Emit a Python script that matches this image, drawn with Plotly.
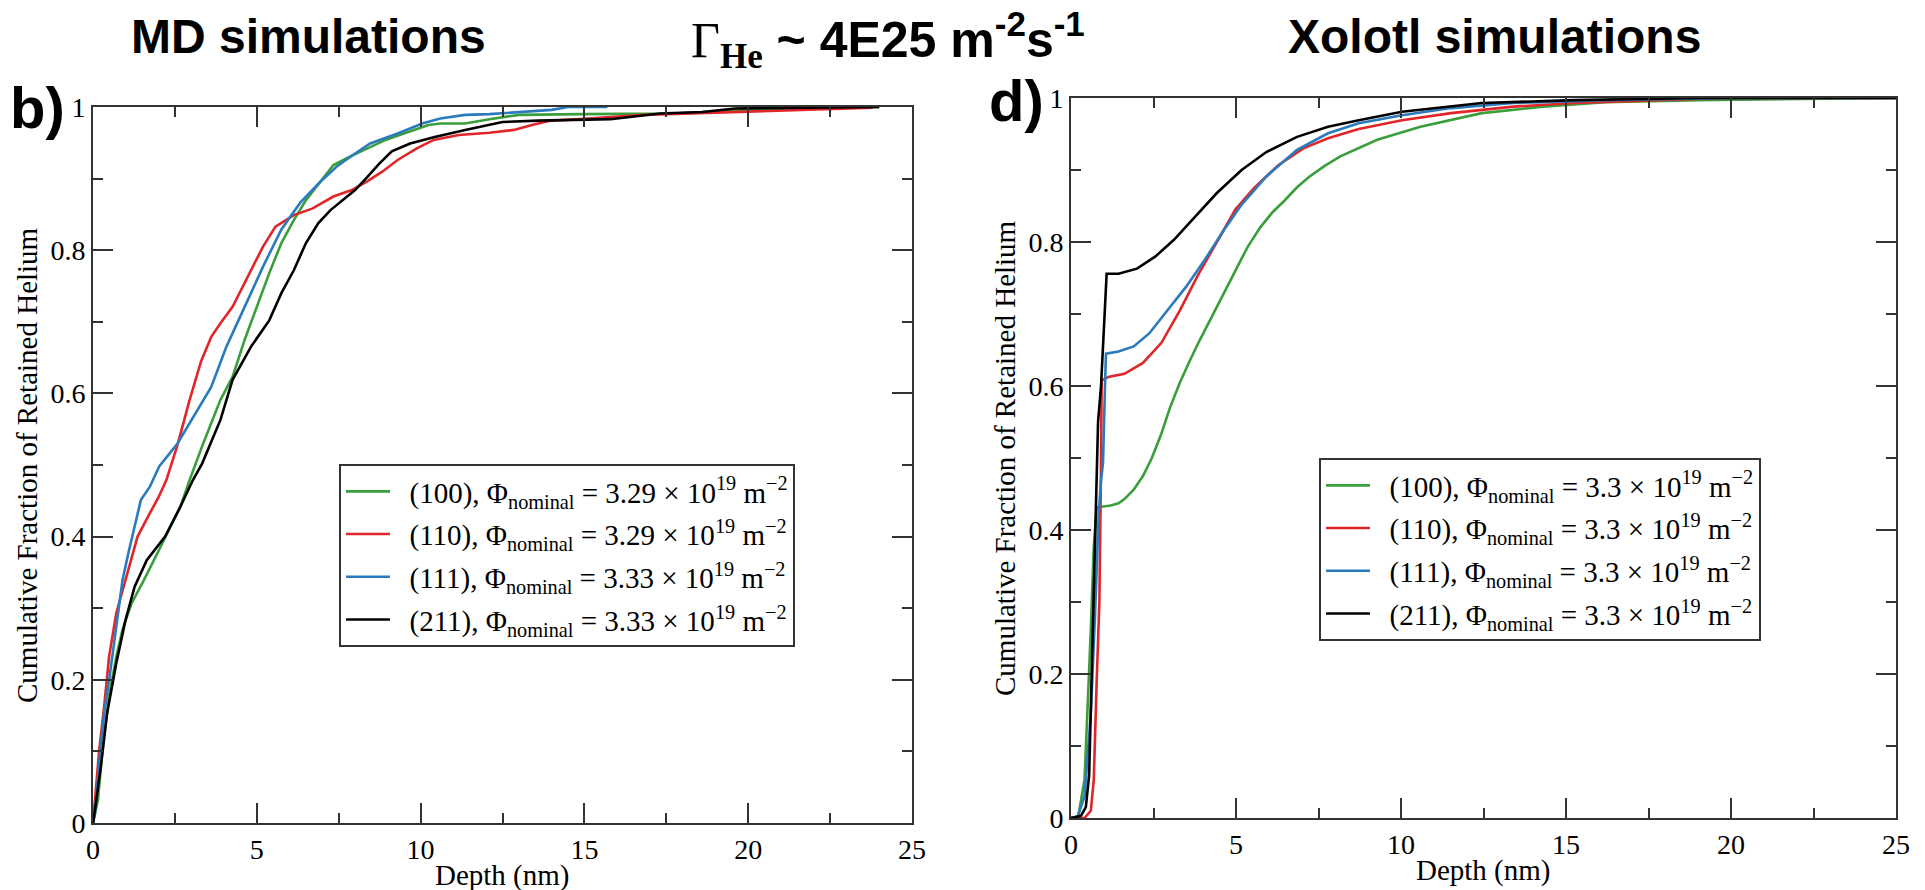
import plotly.graph_objects as go

W, H = 1925, 890

# ---- MD simulations: cumulative fraction vs depth (nm) ----
md_100_x = [0, 0.15, 0.3, 0.49, 0.71, 0.9, 1.18, 1.55, 2.11, 2.67, 2.95, 3.33, 3.89, 4.26, 4.63, 5.0, 5.38, 5.75,
            6.13, 6.5, 6.97, 7.34, 7.81, 8.37, 8.93, 9.49, 10.24, 10.6, 11.36, 12.1, 13.0, 14.9, 17.7, 19.6, 22.2, 24.0]
md_100_y = [0, 0.032, 0.107, 0.177, 0.232, 0.27, 0.307, 0.339, 0.39, 0.442, 0.479, 0.526, 0.591, 0.623, 0.675, 0.721,
            0.768, 0.81, 0.842, 0.87, 0.898, 0.919, 0.93, 0.942, 0.954, 0.963, 0.975, 0.977, 0.977, 0.983, 0.989, 0.990,
            0.991, 0.995, 0.998, 1.0]

md_110_x = [0, 0.06, 0.19, 0.34, 0.49, 0.71, 0.99, 1.36, 1.74, 2.0, 2.24, 2.58, 2.95, 3.3, 3.61, 3.89, 4.26, 4.73,
            5.19, 5.57, 6.13, 6.69, 7.34, 7.9, 8.37, 8.84, 9.3, 9.87, 10.4, 11.17, 12.1, 12.85, 13.4, 13.98, 14.9,
            16.8, 19.6, 21.4, 23.8]
md_110_y = [0, 0.032, 0.102, 0.162, 0.232, 0.293, 0.339, 0.40, 0.433, 0.455, 0.479, 0.528, 0.591, 0.645, 0.679, 0.698,
            0.721, 0.763, 0.805, 0.833, 0.849, 0.858, 0.875, 0.884, 0.896, 0.910, 0.926, 0.942, 0.954, 0.961, 0.964,
            0.968, 0.975, 0.981, 0.983, 0.989, 0.993, 0.996, 0.999]

md_111_x = [0, 0.06, 0.19, 0.34, 0.52, 0.71, 0.9, 1.08, 1.36, 1.46, 1.74, 2.02, 2.58, 3.14, 3.61, 4.07, 4.63, 5.19,
            5.75, 6.32, 6.88, 7.44, 8.0, 8.46, 9.3, 10.05, 10.6, 11.36, 12.1, 13.0, 14.0, 14.5, 15.7]
md_111_y = [0, 0.013, 0.083, 0.153, 0.209, 0.274, 0.339, 0.377, 0.433, 0.451, 0.47, 0.498, 0.53, 0.572, 0.609, 0.665,
            0.721, 0.777, 0.829, 0.866, 0.893, 0.917, 0.935, 0.949, 0.963, 0.977, 0.984, 0.989, 0.99, 0.993, 0.996,
            1.0, 1.0]

md_211_x = [0, 0.06, 0.24, 0.43, 0.71, 0.99, 1.27, 1.64, 2.2, 2.67, 3.05, 3.33, 3.89, 4.26, 4.82, 5.38, 5.75, 6.13,
            6.5, 6.88, 7.25, 7.62, 8.0, 8.37, 8.74, 9.12, 9.68, 10.43, 11.36, 12.5, 13.6, 15.8, 17.3, 18.6, 19.6,
            21.8, 24.0]
md_211_y = [0, 0.018, 0.079, 0.153, 0.223, 0.283, 0.33, 0.367, 0.40, 0.442, 0.479, 0.502, 0.563, 0.619, 0.665, 0.702,
            0.74, 0.772, 0.81, 0.838, 0.856, 0.87, 0.884, 0.902, 0.921, 0.938, 0.949, 0.958, 0.968, 0.979, 0.981,
            0.983, 0.991, 0.993, 0.998, 0.999, 1.0]

# ---- Xolotl simulations ----
xo_100_x = [0, 0.22, 0.41, 0.5, 0.6, 0.69, 0.78, 0.88, 1.2, 1.44, 1.62, 1.9, 2.18, 2.45, 2.74, 3.0, 3.3, 3.6, 3.86,
            4.42, 4.98, 5.35, 5.73, 6.1, 6.48, 6.85, 7.23, 7.7, 8.16, 9.28, 10.59, 12.45, 14.3, 16.2, 19.0, 25]
xo_100_y = [0, 0.002, 0.053, 0.145, 0.261, 0.377, 0.432, 0.432, 0.434, 0.437, 0.443, 0.456, 0.475, 0.5, 0.534, 0.57,
            0.605, 0.635, 0.66, 0.71, 0.761, 0.793, 0.82, 0.841, 0.858, 0.876, 0.891, 0.906, 0.919, 0.942, 0.96,
            0.979, 0.988, 0.994, 0.997, 1.0]

xo_110_x = [0, 0.41, 0.6, 0.69, 0.78, 0.86, 0.9, 0.93, 1.16, 1.62, 2.18, 2.74, 3.3, 3.86, 4.42, 4.98, 5.55, 6.29,
            7.04, 7.79, 8.72, 10.03, 11.52, 13.4, 15.25, 17.1, 19.9, 25]
xo_110_y = [0, 0, 0.01, 0.053, 0.192, 0.3, 0.45, 0.608, 0.613, 0.617, 0.632, 0.66, 0.705, 0.755, 0.80, 0.845,
            0.875, 0.907, 0.93, 0.944, 0.957, 0.969, 0.979, 0.988, 0.993, 0.996, 1.0, 1.0]

xo_111_x = [0, 0.2, 0.41, 0.6, 0.73, 0.84, 0.91, 0.97, 1.03, 1.06, 1.44, 1.9, 2.37, 2.93, 3.49, 4.05, 4.61, 5.17,
            5.92, 6.85, 7.79, 8.72, 10.03, 11.52, 13.4, 16.2, 19.9, 25]
xo_111_y = [0, 0.002, 0.03, 0.145, 0.284, 0.423, 0.469, 0.493, 0.6, 0.645, 0.648, 0.655, 0.673, 0.706, 0.738,
            0.775, 0.815, 0.852, 0.891, 0.928, 0.951, 0.965, 0.976, 0.986, 0.993, 0.997, 1.0, 1.0]

xo_211_x = [0, 0.3, 0.45, 0.55, 0.6, 0.65, 0.73, 0.78, 0.82, 0.91, 1.03, 1.08, 1.44, 2.0, 2.56, 3.12, 3.68, 4.42,
            5.17, 5.92, 6.85, 7.79, 8.72, 10.03, 12.45, 15.25, 19.0, 25]
xo_211_y = [0, 0.003, 0.015, 0.06, 0.15, 0.24, 0.377, 0.47, 0.55, 0.6, 0.70, 0.756, 0.756, 0.763, 0.78, 0.803,
            0.831, 0.868, 0.9, 0.925, 0.946, 0.96, 0.969, 0.981, 0.993, 0.997, 1.0, 1.0]

orientations = ["(100)", "(110)", "(111)", "(211)"]
md_fluence = ["3.29", "3.29", "3.33", "3.33"]
xo_fluence = ["3.3", "3.3", "3.3", "3.3"]
colors = ["#3a9e3a", "#e0262a", "#2a7bbd", "#000000"]

md_series = [(md_100_x, md_100_y), (md_110_x, md_110_y), (md_111_x, md_111_y), (md_211_x, md_211_y)]
xo_series = [(xo_100_x, xo_100_y), (xo_110_x, xo_110_y), (xo_111_x, xo_111_y), (xo_211_x, xo_211_y)]

SERIF = "Liberation Serif"
SANS = "Liberation Sans"
FS_TICK = 28
FS_TEXT = 29


def label(orient, flu):
    return f"\u00a0\u00a0{orient}, Φ<sub>nominal</sub> = {flu} × 10<sup>19</sup> m<sup>−2</sup>"


fig = go.Figure()
for i, (xs, ys) in enumerate(md_series):
    fig.add_trace(go.Scatter(x=xs, y=ys, mode="lines", line=dict(color=colors[i], width=2.6),
                             name=label(orientations[i], md_fluence[i]), legend="legend",
                             legendgroup=f"md{i}", xaxis="x", yaxis="y"))
for i, (xs, ys) in enumerate(xo_series):
    fig.add_trace(go.Scatter(x=xs, y=ys, mode="lines", line=dict(color=colors[i], width=2.6),
                             name=label(orientations[i], xo_fluence[i]), legend="legend2",
                             legendgroup=f"xo{i}", xaxis="x2", yaxis="y2"))


def px(x):
    return x / W


def py(y):
    return 1 - y / H


# plot frames in pixels: (left, right, top, bottom)
L1 = (93, 912, 107, 823)
L2 = (1071, 1896, 98, 818)

axis_common = dict(
    showline=True, linecolor="#333333", linewidth=2, mirror="ticks", automargin=False,
    ticks="inside", ticklen=20, tickwidth=1.5, tickcolor="#333333",
    showgrid=False, zeroline=False,
    tickfont=dict(family=SERIF, size=FS_TICK, color="black"),
)
xaxis_common = dict(axis_common, range=[0, 25], dtick=5, tick0=0,
                    minor=dict(dtick=2.5, ticks="inside", ticklen=10, tickwidth=1.5, tickcolor="#333333"))
yaxis_common = dict(axis_common, range=[0, 1], dtick=0.2, tick0=0, tickformat="~g",
                    minor=dict(dtick=0.1, ticks="inside", ticklen=10, tickwidth=1.5, tickcolor="#333333"))

legend_common = dict(
    bgcolor="white", bordercolor="#333333", borderwidth=2,
    font=dict(family=SERIF, size=FS_TEXT, color="black"),
    xanchor="left", yanchor="top", tracegroupgap=2, itemwidth=44,
)

fig.update_layout(
    width=W, height=H, margin=dict(l=0, r=0, t=0, b=0, autoexpand=False),
    paper_bgcolor="white", plot_bgcolor="white",
    xaxis=dict(xaxis_common, domain=[px(L1[0]), px(L1[1])], anchor="y"),
    yaxis=dict(yaxis_common, domain=[py(L1[3]), py(L1[2])], anchor="x"),
    xaxis2=dict(xaxis_common, domain=[px(L2[0]), px(L2[1])], anchor="y2"),
    yaxis2=dict(yaxis_common, domain=[py(L2[3]), py(L2[2])], anchor="x2"),
    legend=dict(legend_common, x=px(339), y=py(464)),
    legend2=dict(legend_common, x=px(1319), y=py(458)),
    showlegend=True,
)

annotations = [
    # panel headings
    dict(text="MD simulations", x=px(308), y=py(36), font=dict(family=SANS, size=48, color="black", weight="bold")),
    dict(text="Xolotl simulations", x=px(1494), y=py(36),
         font=dict(family=SANS, size=48, color="black", weight="bold")),
    dict(text=f"<span style='font-family:{SERIF};font-weight:normal'>Γ</span>"
              f"<sub><span style='font-family:{SERIF}'>He</span></sub> ~ 4E25 m<sup>-2</sup>s<sup>-1</sup>",
         x=px(888), y=py(40), font=dict(family=SANS, size=50, color="black", weight="bold")),
    # panel letters
    dict(text="b)", x=px(37), y=py(108), font=dict(family=SANS, size=58, color="black", weight="bold")),
    dict(text="d)", x=px(1016), y=py(101), font=dict(family=SANS, size=58, color="black", weight="bold")),
    # axis titles
    dict(text="Depth (nm)", x=px((L1[0] + L1[1]) / 2), y=py(875), font=dict(family=SERIF, size=FS_TEXT, color="black")),
    dict(text="Depth (nm)", x=px((L2[0] + L2[1]) / 2), y=py(870), font=dict(family=SERIF, size=FS_TEXT, color="black")),
    dict(text="Cumulative Fraction of Retained Helium", x=px(27), y=py((L1[2] + L1[3]) / 2), textangle=-90,
         font=dict(family=SERIF, size=FS_TEXT, color="black")),
    dict(text="Cumulative Fraction of Retained Helium", x=px(1005), y=py((L2[2] + L2[3]) / 2), textangle=-90,
         font=dict(family=SERIF, size=FS_TEXT, color="black")),
]
for a in annotations:
    a.update(xref="paper", yref="paper", showarrow=False, xanchor="center", yanchor="middle")
fig.update_layout(annotations=annotations)

fig.write_html("out.html")
